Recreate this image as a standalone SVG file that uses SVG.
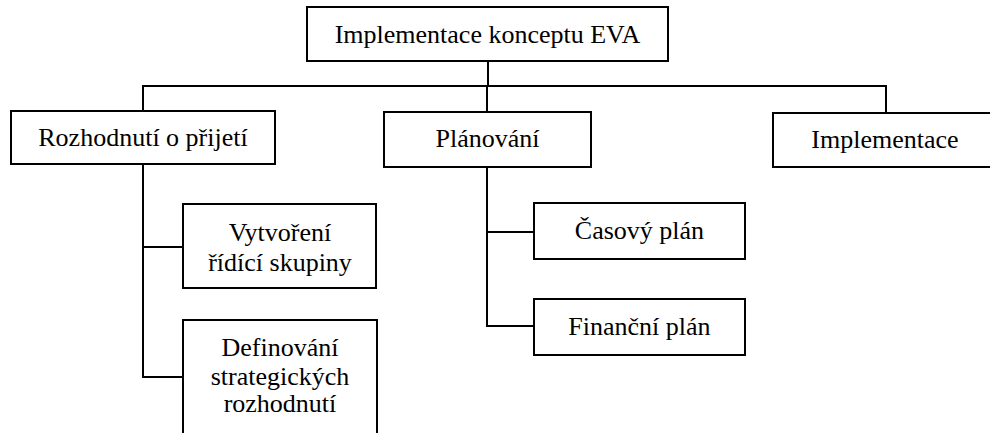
<svg xmlns="http://www.w3.org/2000/svg" width="990" height="433" viewBox="0 0 990 433">
  <style>
    .box { fill: #ffffff; stroke: #000000; stroke-width: 2; }
    .link { fill: none; stroke: #000000; stroke-width: 2; }
    text { font-family: 'Liberation Serif', 'Times New Roman', 'DejaVu Serif', serif; font-size: 26px; fill: #000000; text-anchor: middle; }
  </style>
  <rect width="990" height="433" fill="#ffffff"/>

  <g id="connectors">
    <!-- root to first level -->
    <path class="link" d="M488,61 V86"/>
    <path class="link" d="M143,111 V86 H886 V113"/>
    <path class="link" d="M487,86 V112"/>
    <!-- Rozhodnutí o přijetí children -->
    <path class="link" d="M143,164 V377 H183"/>
    <path class="link" d="M143,247 H183"/>
    <!-- Plánování children -->
    <path class="link" d="M487,167 V326 H534"/>
    <path class="link" d="M487,232 H534"/>
  </g>

  <g id="root">
    <rect class="box" x="307" y="7" width="361" height="54"/>
    <text x="487.5" y="43" font-family="Liberation Serif, serif">Implementace konceptu EVA</text>
  </g>

  <g id="rozhodnuti">
    <rect class="box" x="11" y="111" width="264" height="53"/>
    <text x="143" y="146" font-family="Liberation Serif, serif">Rozhodnutí o přijetí</text>
  </g>

  <g id="planovani">
    <rect class="box" x="384" y="112" width="207" height="55"/>
    <text x="487.5" y="147" font-family="Liberation Serif, serif">Plánování</text>
  </g>

  <g id="implementace">
    <rect class="box" x="773" y="113" width="226" height="54"/>
    <text x="885" y="148" font-family="Liberation Serif, serif">Implementace</text>
  </g>

  <g id="vytvoreni">
    <rect class="box" x="183" y="204" width="193" height="84"/>
    <text x="280" y="241" font-family="Liberation Serif, serif">Vytvoření</text>
    <text x="280" y="271" font-family="Liberation Serif, serif">řídící skupiny</text>
  </g>

  <g id="definovani">
    <rect class="box" x="183" y="320" width="194" height="130"/>
    <text x="280" y="356" font-family="Liberation Serif, serif">Definování</text>
    <text x="280" y="385" font-family="Liberation Serif, serif">strategických</text>
    <text x="280" y="412" font-family="Liberation Serif, serif">rozhodnutí</text>
  </g>

  <g id="casovy-plan">
    <rect class="box" x="534" y="203" width="211" height="56"/>
    <text x="639.5" y="239" font-family="Liberation Serif, serif">Časový plán</text>
  </g>

  <g id="financni-plan">
    <rect class="box" x="534" y="299" width="211" height="56"/>
    <text x="639.5" y="335" font-family="Liberation Serif, serif">Finanční plán</text>
  </g>
</svg>
